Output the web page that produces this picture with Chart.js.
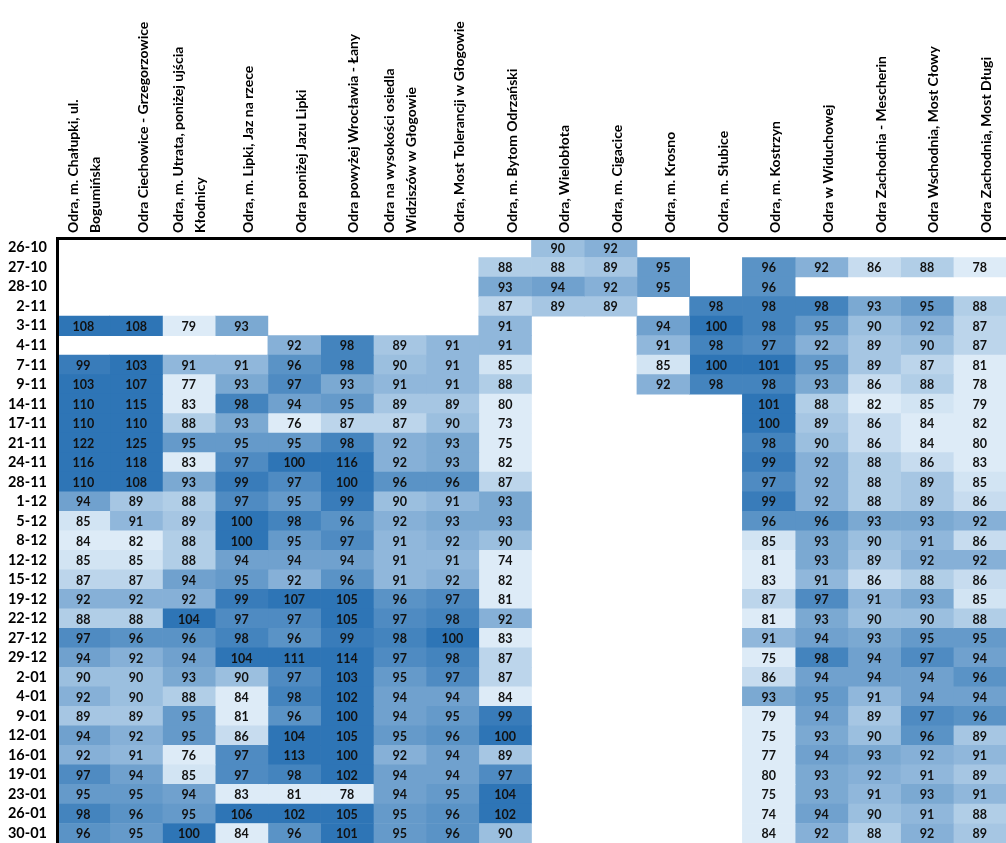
<!DOCTYPE html>
<html lang="pl">
<head>
<meta charset="utf-8">
<title>Odra</title>
<script src="https://cdn.jsdelivr.net/npm/chart.js@4/dist/chart.umd.min.js"></script>
<style>
  html, body { margin: 0; padding: 0; background: #fff; overflow: hidden; }
  #wrap { width: 1006px; height: 843px; }
</style>
</head>
<body>
<div id="wrap"><canvas id="myChart" width="1006" height="843"></canvas></div>
<script>
const dates = [
  "26-10", "27-10", "28-10", "2-11", "3-11", "4-11", "7-11", "9-11", "14-11", "17-11",
  "21-11", "24-11", "28-11", "1-12", "5-12", "8-12", "12-12", "15-12", "19-12", "22-12",
  "27-12", "29-12", "2-01", "4-01", "9-01", "12-01", "16-01", "19-01", "23-01", "26-01", "30-01",
];

const stations = [
  ["Odra, m. Chałupki, ul.", "Bogumińska"],
  "Odra Ciechowice - Grzegorzowice",
  ["Odra, m. Utrata, poniżej ujścia", "Kłodnicy"],
  "Odra, m. Lipki, Jaz na rzece",
  "Odra poniżej Jazu Lipki",
  "Odra powyżej Wrocławia - Łany",
  ["Odra na wysokości osiedla", "Widziszów w Głogowie"],
  "Odra, Most Tolerancji w Głogowie",
  "Odra, m. Bytom Odrzański",
  "Odra, Wielobłota",
  "Odra, m. Cigacice",
  "Odra, m. Krosno",
  "Odra, m. Słubice",
  "Odra, m. Kostrzyn",
  "Odra w Widuchowej",
  "Odra Zachodnia - Mescherin",
  "Odra Wschodnia, Most Cłowy",
  "Odra Zachodnia, Most Długi",
];

// one array per station, one value per date (null = no measurement)
const chalupki = [null, null, null, null, 108, null, 99, 103, 110, 110, 122, 116, 110, 94, 85, 84, 85, 87, 92, 88, 97, 94, 90, 92, 89, 94, 92, 97, 95, 98, 96];
const ciechowice = [null, null, null, null, 108, null, 103, 107, 115, 110, 125, 118, 108, 89, 91, 82, 85, 87, 92, 88, 96, 92, 90, 90, 89, 92, 91, 94, 95, 96, 95];
const utrata = [null, null, null, null, 79, null, 91, 77, 83, 88, 95, 83, 93, 88, 89, 88, 88, 94, 92, 104, 96, 94, 93, 88, 95, 95, 76, 85, 94, 95, 100];
const lipkiJaz = [null, null, null, null, 93, null, 91, 93, 98, 93, 95, 97, 99, 97, 100, 100, 94, 95, 99, 97, 98, 104, 90, 84, 81, 86, 97, 97, 83, 106, 84];
const ponizejLipek = [null, null, null, null, null, 92, 96, 97, 94, 76, 95, 100, 97, 95, 98, 95, 94, 92, 107, 97, 96, 111, 97, 98, 96, 104, 113, 98, 81, 102, 96];
const lany = [null, null, null, null, null, 98, 98, 93, 95, 87, 98, 116, 100, 99, 96, 97, 94, 96, 105, 105, 99, 114, 103, 102, 100, 105, 100, 102, 78, 105, 101];
const widziszow = [null, null, null, null, null, 89, 90, 91, 89, 87, 92, 92, 96, 90, 92, 91, 91, 91, 96, 97, 98, 97, 95, 94, 94, 95, 92, 94, 94, 95, 95];
const mostTolerancji = [null, null, null, null, null, 91, 91, 91, 89, 90, 93, 93, 96, 91, 93, 92, 91, 92, 97, 98, 100, 98, 97, 94, 95, 96, 94, 94, 95, 96, 96];
const bytom = [null, 88, 93, 87, 91, 91, 85, 88, 80, 73, 75, 82, 87, 93, 93, 90, 74, 82, 81, 92, 83, 87, 87, 84, 99, 100, 89, 97, 104, 102, 90];
const wieloblota = [90, 88, 94, 89, null, null, null, null, null, null, null, null, null, null, null, null, null, null, null, null, null, null, null, null, null, null, null, null, null, null, null];
const cigacice = [92, 89, 92, 89, null, null, null, null, null, null, null, null, null, null, null, null, null, null, null, null, null, null, null, null, null, null, null, null, null, null, null];
const krosno = [null, 95, 95, null, 94, 91, 85, 92, null, null, null, null, null, null, null, null, null, null, null, null, null, null, null, null, null, null, null, null, null, null, null];
const slubice = [null, null, null, 98, 100, 98, 100, 98, null, null, null, null, null, null, null, null, null, null, null, null, null, null, null, null, null, null, null, null, null, null, null];
const kostrzyn = [null, 96, 96, 98, 98, 97, 101, 98, 101, 100, 98, 99, 97, 99, 96, 85, 81, 83, 87, 81, 91, 75, 86, 93, 79, 75, 77, 80, 75, 74, 84];
const widuchowa = [null, 92, null, 98, 95, 92, 95, 93, 88, 89, 90, 92, 92, 92, 96, 93, 93, 91, 97, 93, 94, 98, 94, 95, 94, 93, 94, 93, 93, 94, 92];
const mescherin = [null, 86, null, 93, 90, 89, 89, 86, 82, 86, 86, 88, 88, 88, 93, 90, 89, 86, 91, 90, 93, 94, 94, 91, 89, 90, 93, 92, 91, 90, 88];
const mostClowy = [null, 88, null, 95, 92, 90, 87, 88, 85, 84, 84, 86, 89, 89, 93, 91, 92, 88, 93, 90, 95, 97, 94, 94, 97, 96, 92, 91, 93, 91, 92];
const mostDlugi = [null, 78, null, 88, 87, 87, 81, 78, 79, 82, 80, 83, 85, 86, 92, 86, 92, 86, 85, 88, 95, 94, 96, 94, 96, 89, 91, 89, 91, 88, 89];

const series = [
  chalupki, ciechowice, utrata, lipkiJaz, ponizejLipek, lany, widziszow, mostTolerancji, bytom,
  wieloblota, cigacice, krosno, slubice, kostrzyn, widuchowa, mescherin, mostClowy, mostDlugi,
];

// colour scale: light below LOW, dark above HIGH
const LOW = 84;
const HIGH = 100;
const light = [221, 235, 247];
const dark = [46, 117, 182];

const cellColor = (v) => {
  const t = Math.min(1, Math.max(0, (v - LOW) / (HIGH - LOW)));
  const rgb = light.map((l, i) => Math.round(l + (dark[i] - l) * t));
  return `rgb(${rgb.join(",")})`;
};

const datasets = series.map((values, col) => ({
  label: [].concat(stations[col]).join(" "),
  values,
  data: values.map((v) => (v === null ? null : [col, col + 1])),
  backgroundColor: (ctx) => cellColor(values[ctx.dataIndex]),
  borderWidth: 0,
  grouped: false,
  barPercentage: 1,
  categoryPercentage: 1,
}));

// write the number in the middle of each cell
const cellLabels = {
  id: "cellLabels",
  afterDatasetsDraw(chart) {
    const ctx = chart.ctx;
    ctx.save();
    ctx.font = "bold 12.5px Lato";
    ctx.fillStyle = "#111";
    ctx.textAlign = "center";
    ctx.textBaseline = "middle";
    chart.data.datasets.forEach((ds, i) => {
      chart.getDatasetMeta(i).data.forEach((bar, j) => {
        const v = ds.values[j];
        if (v === null) return;
        const p = bar.getCenterPoint();
        ctx.fillText(v, p.x, p.y + 1);
      });
    });
    ctx.restore();
  },
};

new Chart(document.querySelector("#myChart"), {
  type: "bar",
  data: { labels: dates, datasets },
  plugins: [cellLabels],
  options: {
    indexAxis: "y",
    responsive: false,
    animation: false,
    layout: { padding: 0 },
    plugins: {
      legend: { display: false },
      tooltip: { enabled: false },
    },
    scales: {
      x: {
        type: "linear",
        position: "top",
        min: 0,
        max: stations.length,
        grid: { display: false, drawTicks: false },
        border: { display: true, color: "#000", width: 3, z: 1 },
        afterBuildTicks: (axis) => {
          axis.ticks = stations.map((s, i) => ({ value: i + 0.5 }));
        },
        afterFit: (axis) => {
          axis.height = 238;
          axis.paddingLeft = 0;
          axis.paddingRight = 0;
        },
        ticks: {
          autoSkip: false,
          minRotation: 90,
          maxRotation: 90,
          padding: 5,
          labelOffset: 34,
          color: "#000",
          font: (ctx) => ({
            family: "Lato",
            weight: "bold",
            size: 14,
            lineHeight: Array.isArray(stations[ctx.index]) ? "22px" : "27px",
          }),
          callback: (value, index) => stations[index],
        },
      },
      y: {
        type: "category",
        grid: { display: false, drawTicks: false },
        border: { display: true, color: "#000", width: 3, z: 1 },
        afterFit: (axis) => {
          axis.width = 57;
          axis.paddingTop = 0;
          axis.paddingBottom = 0;
        },
        ticks: {
          autoSkip: false,
          padding: 10,
          color: "#000",
          font: { family: "Lato", weight: "bold", size: 14.5 },
        },
      },
    },
  },
});
</script>
</body>
</html>
